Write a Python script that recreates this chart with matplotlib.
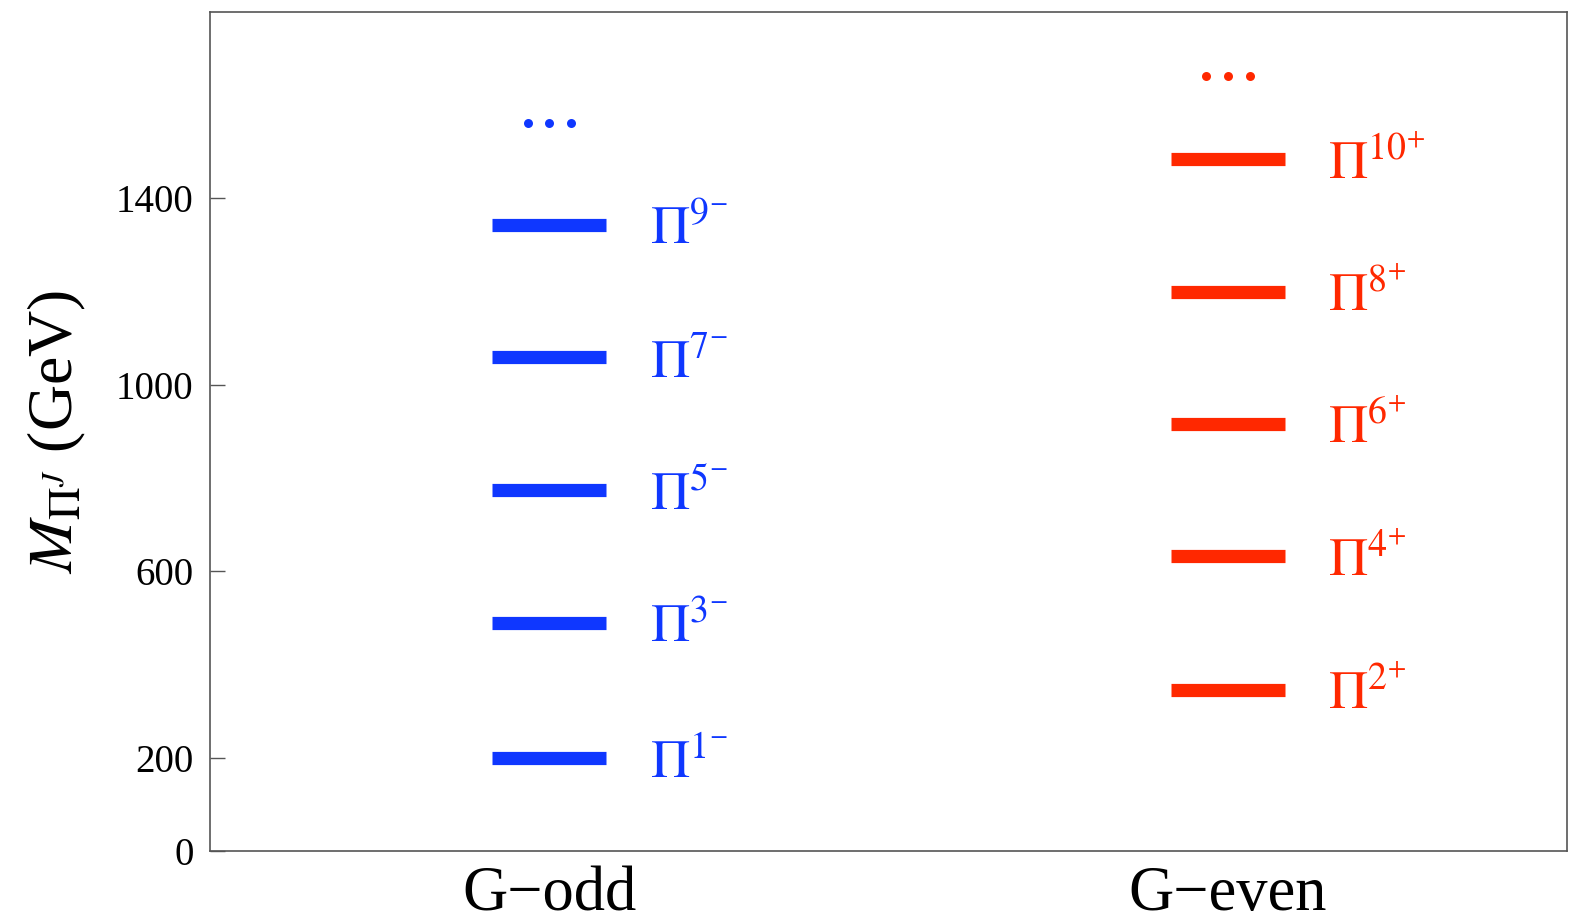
import matplotlib
matplotlib.use("Agg")
import matplotlib.pyplot as plt

plt.rcParams['font.family'] = ['Liberation Serif', 'DejaVu Serif']
plt.rcParams['mathtext.fontset'] = 'stix'

# Data
groups = ["G\u2212odd", "G\u2212even"]
odd_J = [1, 3, 5, 7, 9]
odd_mass = [200, 490, 774, 1059, 1343]
even_J = [2, 4, 6, 8, 10]
even_mass = [346, 633, 917, 1200, 1485]
dots_mass = [1561, 1663]   # "..." markers (odd, even)
yticks = [0, 200, 600, 1000, 1400]

BLUE = '#0F37FF'
RED = '#FF2800'

fig = plt.figure(figsize=(15.8, 9.22), dpi=100)
ax = fig.add_axes([0.133, 0.077, 0.859, 0.910])

xc = [0.25, 0.75]
half = 0.042
label_dx = 0.074
colors = [BLUE, RED]
signs = ['-', '+']

for gi, (Js, ms) in enumerate([(odd_J, odd_mass), (even_J, even_mass)]):
    c = colors[gi]
    for J, m in zip(Js, ms):
        ax.plot([xc[gi] - half, xc[gi] + half], [m, m], color=c, lw=9.5,
                solid_capstyle='butt')
        ax.annotate(r'$\Pi^{%d^{%s}}$' % (J, signs[gi]), xy=(xc[gi] + label_dx, m),
                    xytext=(0, -14), textcoords='offset points',
                    color=c, fontsize=39, va='baseline', ha='left')
    for dx in (-0.016, 0.0, 0.016):
        ax.scatter([xc[gi] + dx], [dots_mass[gi]], s=42, color=c, zorder=3,
                   linewidths=0)

ax.set_xlim(0, 1)
ax.set_ylim(0, 1800)
ax.set_yticks(yticks)
ax.set_yticklabels([str(t) for t in yticks], fontsize=28)
ax.set_xticks(xc)
ax.set_xticklabels(groups, fontsize=45)
ax.tick_params(axis='x', length=0, pad=11)
ax.tick_params(axis='y', direction='in', length=11, width=1, color='#555555', pad=12)
for s in ax.spines.values():
    s.set_color('#555555')
    s.set_linewidth(1.2)
ax.set_ylabel(r'$M_{\Pi^J}$ (GeV)', fontsize=46, labelpad=20)

fig.savefig('out.png', dpi=100)
